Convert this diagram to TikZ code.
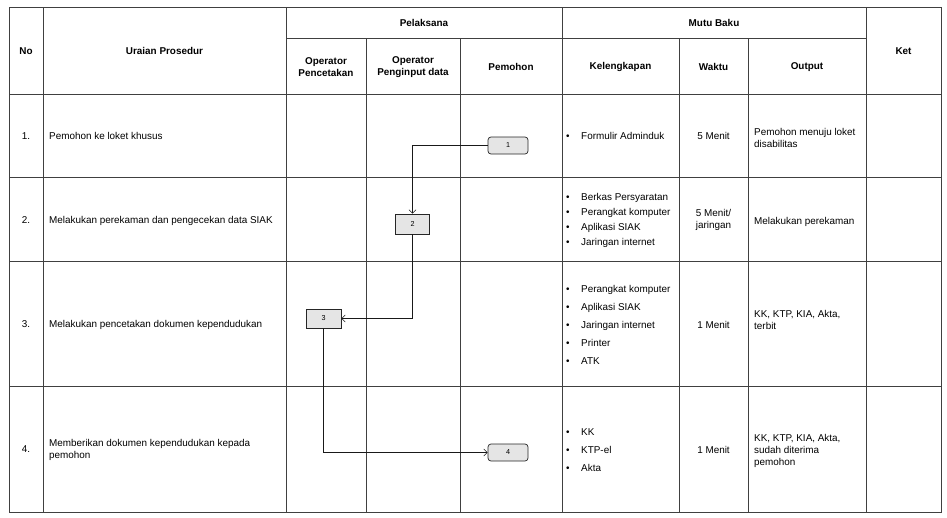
\documentclass[tikz,border=0pt]{standalone}
\usepackage{fontspec}
\setmainfont{Liberation Sans}
\usetikzlibrary{arrows.meta}
\begin{document}
\begin{tikzpicture}[x=1pt,y=-1pt,
  gridline/.style={draw=black!75, line width=0.9pt},
  one/.style={inner sep=0pt, font=\fontsize{9.9}{12}\selectfont, text height=7.5pt, text depth=0.5pt},
  multi/.style={inner sep=0pt, font=\fontsize{9.9}{12}\selectfont},
  hd/.style={inner sep=0pt, font=\fontsize{9.9}{12}\selectfont\bfseries, align=center},
  lft/.style={anchor=west, align=left},
  ctr/.style={align=center},
  stepbox/.style={draw=black!85, fill=black!10, line width=0.7pt, inner sep=0pt,
     font=\fontsize{7.2}{8}\selectfont},
  arr/.style={draw=black!90, line width=0.6pt, -{Straight Barb[length=3.5pt,width=7pt]}}
]
\useasboundingbox (0,0) rectangle (947,517);
\newcommand{\bl}{\makebox[15pt][l]{\textbullet}}

% grid
\draw[gridline] (9,7) rectangle (941,512);
\foreach \x in {43,286,562,866} \draw[gridline] (\x,7) -- (\x,512);
\foreach \x in {366,460,679,748} \draw[gridline] (\x,38) -- (\x,512);
\draw[gridline] (286,38) -- (866,38);
\foreach \y in {94,177,261,386} \draw[gridline] (9,\y) -- (941,\y);

% headers
\node[hd] (hno) at (26,51) {No};
\node[hd] (hur) at (164.5,51) {Uraian Prosedur};
\node[hd] (hpel) at (424,22.5) {Pelaksana};
\node[hd] (hmb) at (714,22.5) {Mutu Baku};
\node[hd] (hop1) at (326,67) {Operator\\Pencetakan};
\node[hd] (hop2) at (413,67) {Operator\\Penginput data};
\node[hd] (hpem) at (511,67) {Pemohon};
\node[hd] (hkel) at (620.5,67) {Kelengkapan};
\node[hd] (hwak) at (713.5,67) {Waktu};
\node[hd] (hout) at (807,67) {Output};
\node[hd] (hket) at (903.5,51) {Ket};

% row 1
\node[one] (n1) at (26,136) {1.};
\node[one,lft] (u1) at (49,136) {Pemohon ke loket khusus};
\node[one,lft] (k1) at (566,136) {\bl Formulir Adminduk};
\node[one] (w1) at (713.5,136) {5 Menit};
\node[multi,lft] (o1) at (754,137.5) {Pemohon menuju loket\\disabilitas};

% row 2
\node[one] (n2) at (26,220) {2.};
\node[one,lft] (u2) at (49,220) {Melakukan perekaman dan pengecekan data SIAK};
\node[multi,lft] (k2) at (566,220) {\bl Berkas Persyaratan\\[3pt]\bl Perangkat komputer\\[3pt]\bl Aplikasi SIAK\\[3pt]\bl Jaringan internet};
\node[multi,ctr] (w2) at (713.5,219.5) {5 Menit/\\jaringan};
\node[one,lft] (o2) at (754,221) {Melakukan perekaman};

% row 3
\node[one] (n3) at (26,323.5) {3.};
\node[one,lft] (u3) at (49,323.5) {Melakukan pencetakan dokumen kependudukan};
\node[multi,lft] (k3) at (566,325) {\bl Perangkat komputer\\[6pt]\bl Aplikasi SIAK\\[6pt]\bl Jaringan internet\\[6pt]\bl Printer\\[6pt]\bl ATK};
\node[one] (w3) at (713.5,325) {1 Menit};
\node[multi,lft] (o3) at (754,319.5) {KK, KTP, KIA, Akta,\\terbit};

% row 4
\node[one] (n4) at (26,449) {4.};
\node[multi,lft] (u4) at (49,450) {Memberikan dokumen kependudukan kepada\\pemohon};
\node[multi,lft] (k4) at (566,450) {\bl KK\\[6pt]\bl KTP-el\\[6pt]\bl Akta};
\node[one] (w4) at (713.5,450) {1 Menit};
\node[multi,lft] (o4) at (754,450.5) {KK, KTP, KIA, Akta,\\sudah diterima\\pemohon};

% flow boxes
\node[stepbox, rounded corners=3pt, minimum width=40pt, minimum height=17pt] (b1) at (508,145.5) {1};
\node[stepbox, minimum width=34pt, minimum height=20pt] (b2) at (412.5,224) {2};
\node[stepbox, minimum width=35pt, minimum height=19pt] (b3) at (323.5,318.5) {3};
\node[stepbox, rounded corners=3pt, minimum width=40pt, minimum height=17pt] (b4) at (508,452.5) {4};

% connectors
\draw[arr] (b1.west) -| (b2.north);
\draw[arr] (b2.south) |- (b3.east);
\draw[arr] (b3.south) |- (b4.west);
\end{tikzpicture}
\end{document}
